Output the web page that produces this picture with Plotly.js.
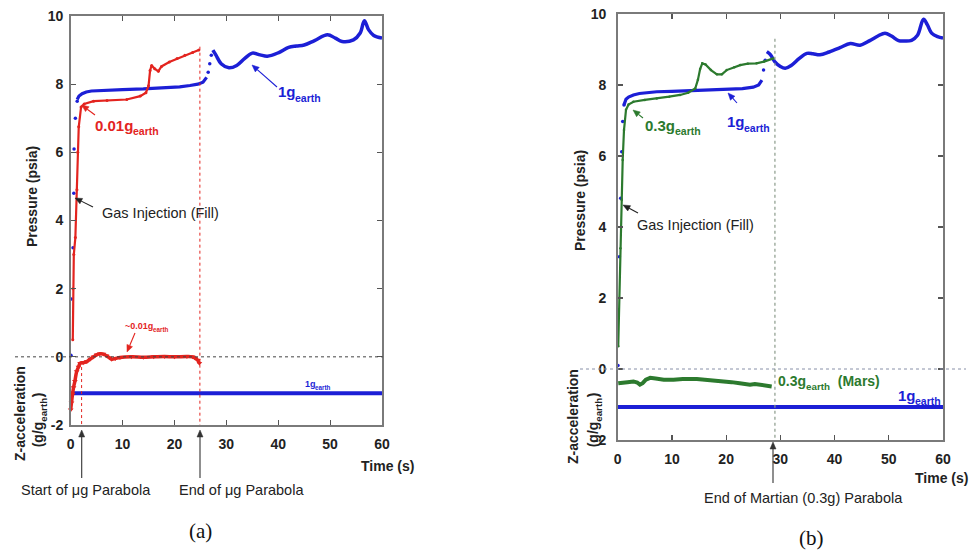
<!DOCTYPE html>
<html>
<head>
<meta charset="utf-8">
<script src="https://cdn.plot.ly/plotly-3.0.1.min.js"></script>
<style>html,body{margin:0;padding:0;background:#fff;}#chart{width:971px;height:552px;}</style>
</head>
<body>
<div id="chart"></div>
<script>
// ---------- DATA ----------
// Panel (a): 0.01 g parabola vs 1 g ground run
const aBlueRiseT = [0.05, 0.1, 0.45, 0.6, 0.65, 0.9, 1.25];
const aBlueRiseP = [0.05, 1.7, 3.2, 4.8, 6.1, 7.0, 7.5];
const aBlueT = [1.25, 1.6, 2.2, 3, 4, 6, 8, 10, 14, 18, 21, 23, 24.5, 25.5, 26.2];
const aBlueP = [7.55, 7.65, 7.72, 7.77, 7.8, 7.82, 7.83, 7.84, 7.86, 7.89, 7.92, 7.96, 8.0, 8.06, 8.2];
const aBlueJumpT = [26.5, 26.8, 27.1];
const aBlueJumpP = [8.35, 8.6, 8.85];
const aBlueWaveT = [27.4, 28, 29, 30.5, 32, 33.5, 35, 36.5, 37.9, 40, 42, 43.5, 45, 47, 49.5, 51, 52.3, 54.5, 55.8, 56.6, 57.4, 58.4, 60];
const aBlueWaveP = [9.0, 8.85, 8.6, 8.48, 8.55, 8.75, 8.91, 8.86, 8.82, 8.92, 9.08, 9.12, 9.15, 9.28, 9.45, 9.35, 9.25, 9.3, 9.5, 9.86, 9.6, 9.43, 9.35];
const aRedT = [0.4, 0.45, 0.6, 0.9, 1.2, 1.35, 1.55, 2.0, 2.6, 4.4, 7, 10.8, 13.4, 14.5, 15.0, 15.3, 15.6, 16.2, 16.9, 17.5, 19, 20.5, 22, 23.5, 24.7];
const aRedP = [0.5, 2.0, 3.0, 3.5, 4.9, 6.0, 6.75, 7.33, 7.42, 7.5, 7.52, 7.55, 7.65, 7.75, 7.95, 8.4, 8.55, 8.45, 8.38, 8.52, 8.65, 8.75, 8.85, 8.93, 9.0];
const aRedZT = [0.0, 0.15, 0.35, 0.55, 0.8, 1.15, 1.5, 1.8, 2.4, 3.1, 3.8, 4.4, 5.0, 5.6, 6.3, 6.9, 7.5, 7.9, 8.6, 9.5, 11.7, 14, 16, 18.1, 20, 22.4, 23.5, 24.0, 24.5, 24.8];
const aRedZ = [-1.55, -1.35, -1.1, -0.9, -0.72, -0.43, -0.3, -0.19, -0.17, -0.14, -0.06, 0.0, 0.06, 0.09, 0.08, 0.03, -0.03, -0.07, -0.05, -0.02, 0.0, -0.01, 0.0, 0.01, 0.0, 0.01, 0.0, -0.04, -0.1, -0.19];
const aBlueZT = [0.1, 60];
const aBlueZ = [-1.07, -1.07];
const aMarkTimes = [2.1, 24.9];

// Panel (b): 0.3 g (Martian) parabola vs 1 g ground run
const bBlueRiseT = [0.05, 0.1, 0.3, 0.55, 0.74, 0.92, 1.16];
const bBlueRiseP = [0.1, 1.67, 3.16, 4.81, 6.12, 6.97, 7.44];
const bBlueT = [1.16, 1.53, 2.0, 2.9, 4, 5.5, 7.2, 10, 14.1, 17, 20.1, 23, 25, 26.0, 26.6];
const bBlueP = [7.44, 7.6, 7.66, 7.72, 7.76, 7.79, 7.81, 7.82, 7.84, 7.86, 7.88, 7.9, 7.94, 8.0, 8.14];
const bBlueJumpT = [26.9, 27.2];
const bBlueJumpP = [8.42, 8.7];
const bBlueWaveT = [27.5, 28.2, 29.0, 30.0, 30.9, 32, 33.5, 34.9, 36, 37.3, 39, 41, 42.9, 44.7, 46.5, 48, 49.3, 50.5, 51.8, 53, 54.2, 55.3, 56.4, 57.1, 57.9, 59, 60];
const bBlueWaveP = [8.94, 8.85, 8.65, 8.52, 8.47, 8.55, 8.75, 8.89, 8.88, 8.85, 8.93, 9.05, 9.17, 9.12, 9.25, 9.38, 9.46, 9.38, 9.25, 9.24, 9.26, 9.4, 9.85, 9.7, 9.46, 9.36, 9.32];
const bGreenT = [0.1, 0.3, 0.5, 0.74, 0.92, 1.16, 1.53, 2.0, 2.9, 5, 7.2, 9.5, 11.5, 13, 14.3, 14.8, 15.2, 15.6, 16.2, 17.2, 18.3, 19.2, 20.1, 21.5, 22.6, 24, 25.6, 27, 28.7];
const bGreenP = [0.64, 2.0, 3.4, 4.76, 5.89, 6.73, 7.3, 7.45, 7.53, 7.58, 7.62, 7.67, 7.72, 7.78, 7.9, 8.15, 8.45, 8.61, 8.58, 8.42, 8.3, 8.3, 8.42, 8.5, 8.56, 8.6, 8.61, 8.66, 8.75];
const bGreenZT = [0.1, 0.8, 1.8, 2.9, 3.6, 4.1, 4.6, 5.2, 6.0, 7, 8.5, 10.3, 12, 14.6, 16.5, 18, 19.5, 21, 22.5, 23.5, 24.4, 25.3, 26.5, 27.5, 28.4];
const bGreenZ = [-0.4, -0.38, -0.37, -0.35, -0.38, -0.44, -0.4, -0.3, -0.25, -0.27, -0.3, -0.3, -0.28, -0.28, -0.3, -0.33, -0.35, -0.37, -0.4, -0.43, -0.44, -0.42, -0.44, -0.47, -0.49];
const bBlueZT = [0.05, 60];
const bBlueZ = [-1.07, -1.07];
const bMarkTimes = [29.0];

// Tick values / labels
const xTickVals = [0, 10, 20, 30, 40, 50, 60];
const xTickText = ["0", "10", "20", "30", "40", "50", "60"];
const yTickVals = [-2, 0, 2, 4, 6, 8, 10];
const yTickText = ["-2", "0", "2", "4", "6", "8", "10"];

// ---------- STYLE ----------
const RED = "#e3241f", BLUE = "#1c1fd6", GREEN = "#2c7a2e", INK = "#222";
const FONT = "Liberation Sans, Arial, sans-serif";
const W = 971, H = 552;
const px = v => v / W, py = v => 1 - v / H;

function tr(x, y, xa, ya, o) {
  return Object.assign({x: x, y: y, xaxis: xa, yaxis: ya, type: "scatter", hoverinfo: "skip", showlegend: false, cliponaxis: false}, o);
}
const traces = [
  // panel a
  tr(aBlueZT, aBlueZ, "x", "y", {mode: "lines", line: {color: BLUE, width: 4}}),
  tr(aBlueRiseT, aBlueRiseP, "x", "y", {mode: "markers", marker: {color: BLUE, size: 3.5}}),
  tr(aBlueT, aBlueP, "x", "y", {mode: "lines", line: {color: BLUE, width: 3.2}}),
  tr(aBlueJumpT, aBlueJumpP, "x", "y", {mode: "markers", marker: {color: BLUE, size: 3.5}}),
  tr(aBlueWaveT, aBlueWaveP, "x", "y", {mode: "lines", line: {color: BLUE, width: 3.5, shape: "spline"}}),
  tr(aRedT, aRedP, "x", "y", {mode: "lines+markers", line: {color: RED, width: 2.2}, marker: {color: RED, size: 3}}),
  tr(aRedZT, aRedZ, "x", "y", {mode: "lines+markers", line: {color: RED, width: 3.5, shape: "spline"}, marker: {color: RED, size: 5, symbol: "triangle-down"}}),
  // panel b
  tr(bBlueZT, bBlueZ, "x2", "y2", {mode: "lines", line: {color: BLUE, width: 4}}),
  tr(bBlueRiseT, bBlueRiseP, "x2", "y2", {mode: "markers", marker: {color: BLUE, size: 3.5}}),
  tr(bBlueT, bBlueP, "x2", "y2", {mode: "lines", line: {color: BLUE, width: 3.2}}),
  tr(bBlueJumpT, bBlueJumpP, "x2", "y2", {mode: "markers", marker: {color: BLUE, size: 3.5}}),
  tr(bBlueWaveT, bBlueWaveP, "x2", "y2", {mode: "lines", line: {color: BLUE, width: 3.5, shape: "spline"}}),
  tr(bGreenT, bGreenP, "x2", "y2", {mode: "lines+markers", line: {color: GREEN, width: 2.2}, marker: {color: GREEN, size: 2.5}}),
  tr(bGreenZT, bGreenZ, "x2", "y2", {mode: "lines", line: {color: GREEN, width: 4}})
];

function axis(domain, anchor, isX, standoff) {
  return {
    domain: domain, anchor: anchor, range: isX ? [0, 60] : [-2, 10],
    tickmode: "array", tickvals: isX ? xTickVals : yTickVals, ticktext: isX ? xTickText : yTickText,
    ticks: "inside", ticklen: 5, tickwidth: 1.2, tickcolor: "#555",
    showline: true, linecolor: "#7a7a7a", linewidth: 1.6, mirror: "ticks",
    showgrid: false, zeroline: false, fixedrange: true,
    ticklabelstandoff: standoff,
    tickfont: {family: FONT, size: 14, color: INK, weight: "bold"}
  };
}

const shapes = [];
// y = 0 dotted references
shapes.push({type: "line", xref: "paper", yref: "y", x0: px(15), x1: px(383), y0: 0, y1: 0, line: {color: "#444", width: 1, dash: "dot"}});
shapes.push({type: "line", xref: "paper", yref: "y2", x0: px(580), x1: px(966), y0: 0, y1: 0, line: {color: "#8890a8", width: 1, dash: "dot"}});
// vertical markers
shapes.push({type: "line", xref: "x", yref: "y", x0: aMarkTimes[0], x1: aMarkTimes[0], y0: -0.3, y1: -2, line: {color: RED, width: 1, dash: "dot"}});
shapes.push({type: "line", xref: "x", yref: "y", x0: aMarkTimes[1], x1: aMarkTimes[1], y0: 9.1, y1: -2, line: {color: RED, width: 1, dash: "dot"}});
shapes.push({type: "line", xref: "x2", yref: "y2", x0: bMarkTimes[0], x1: bMarkTimes[0], y0: 9.3, y1: -2, line: {color: "#8a9a8a", width: 1.2, dash: "dot"}});

// pointer arrows drawn as shapes (line + filled head), pixel positions -> paper
function arrow(tx, ty, sx, sy, color) {
  const dx = tx - sx, dy = ty - sy, len = Math.hypot(dx, dy);
  const ux = dx / len, uy = dy / len, L = 7, hw = 3;
  const bx = tx - ux * L, by = ty - uy * L;
  shapes.push({type: "line", xref: "paper", yref: "paper", x0: px(sx), y0: py(sy), x1: px(bx), y1: py(by), line: {color: color, width: 1.1}});
  const p1 = [bx - uy * hw, by + ux * hw], p2 = [bx + uy * hw, by - ux * hw];
  shapes.push({type: "path", xref: "paper", yref: "paper",
    path: `M ${px(tx)} ${py(ty)} L ${px(p1[0])} ${py(p1[1])} L ${px(p2[0])} ${py(p2[1])} Z`,
    fillcolor: color, line: {color: color, width: 0.5}});
}
// panel a arrows
arrow(81.7, 105, 95, 115, RED);
arrow(252, 65, 277, 87, BLUE);
arrow(75, 198, 93, 207, INK);
arrow(127, 352, 135, 333, RED);
arrow(81.7, 430, 81.7, 478, "#333");
arrow(200, 430, 200, 478, "#333");
// panel b arrows
arrow(633, 110, 643, 118, GREEN);
arrow(728, 93, 737, 103, BLUE);
arrow(623, 205, 638, 213, INK);
arrow(773, 442, 773, 483, "#333");

const ann = [];
function label(text, x, y, o) {
  ann.push(Object.assign({xref: "paper", yref: "paper", x: px(x), y: py(y), text: text, showarrow: false,
    xanchor: "left", yanchor: "middle", font: {family: FONT, size: 14.5, color: INK}}, o));
}
const bold = (c, s) => ({family: FONT, size: s, color: c, weight: "bold"});

// text with subscripts, assembled from separately measured pieces
const ctx = document.createElement("canvas").getContext("2d");
function textW(t, size, isBold) {
  ctx.font = (isBold ? "bold " : "") + size + 'px "Liberation Sans", Arial, sans-serif';
  return ctx.measureText(t).width;
}
function rich(parts, x, y, o) {
  const s = o.size, ss = s * 0.7, angle = o.angle || 0;
  const ws = parts.map(p => textW(p[0], p[1] ? ss : s, true));
  const total = ws.reduce((a, b) => a + b, 0);
  let cum = o.align === "center" ? -total / 2 : 0;
  parts.forEach((p, i) => {
    const c = cum + ws[i] / 2; cum += ws[i];
    const off = p[1] ? 0.38 * s : 0;
    const X = angle === -90 ? x + off : x + c;
    const Y = angle === -90 ? y - c : y + off;
    ann.push({xref: "paper", yref: "paper", x: px(X), y: py(Y), text: p[0], showarrow: false,
      xanchor: "center", yanchor: "middle", textangle: angle, borderpad: 0,
      font: bold(o.color, p[1] ? ss : s)});
  });
}

// panel a labels
rich([["0.01g", 0], ["earth", 1]], 95, 125, {size: 15, color: RED});
rich([["1g", 0], ["earth", 1]], 278, 92, {size: 15, color: BLUE});
label("Gas Injection (Fill)", 100, 213);
rich([["~0.01g", 0], ["earth", 1]], 125, 326, {size: 9, color: RED});
rich([["1g", 0], ["earth", 1]], 305, 384, {size: 9, color: BLUE});
label("Start of \u03bcg Parabola", 86, 490, {xanchor: "center"});
label("End of \u03bcg Parabola", 241, 490, {xanchor: "center"});
label("Time (s)", 387, 466, {xanchor: "center", font: bold(INK, 14)});
label("(a)", 200, 531, {xanchor: "center", font: {family: "Liberation Serif, Times New Roman, serif", size: 21, color: "#111"}});
label("Pressure (psia)", 32, 197, {xanchor: "center", textangle: -90, font: bold(INK, 14)});
label("Z-acceleration", 20, 414, {xanchor: "center", textangle: -90, font: bold(INK, 14)});
rich([["(g/g", 0], ["earth", 1], [")", 0]], 38, 420, {size: 14, color: INK, angle: -90, align: "center"});
// panel b labels
rich([["0.3g", 0], ["earth", 1]], 645, 125, {size: 15, color: GREEN});
rich([["1g", 0], ["earth", 1]], 727, 122, {size: 15, color: BLUE});
label("Gas Injection (Fill)", 635, 225);
rich([["0.3g", 0], ["earth", 1], ["\u00a0\u00a0(Mars)", 0]], 778, 381, {size: 14, color: GREEN});
rich([["1g", 0], ["earth", 1]], 898, 395, {size: 15, color: BLUE});
label("End of Martian (0.3g) Parabola", 803, 498, {xanchor: "center"});
label("Time (s)", 941, 478, {xanchor: "center", font: bold(INK, 14)});
label("(b)", 811, 538, {xanchor: "center", font: {family: "Liberation Serif, Times New Roman, serif", size: 21, color: "#111"}});
label("Pressure (psia)", 580, 201, {xanchor: "center", textangle: -90, font: bold(INK, 14)});
label("Z-acceleration", 573, 417, {xanchor: "center", textangle: -90, font: bold(INK, 14)});
rich([["(g/g", 0], ["earth", 1], [")", 0]], 593, 420, {size: 14, color: INK, angle: -90, align: "center"});

const layout = {
  width: W, height: H, margin: {l: 0, r: 0, t: 0, b: 0},
  paper_bgcolor: "#fff", plot_bgcolor: "rgba(0,0,0,0)",
  showlegend: false, hovermode: false,
  font: {family: FONT, color: INK},
  xaxis: axis([70.7 / W, 382 / W], "y", true, 6),
  yaxis: axis([(H - 425) / H, (H - 16) / H], "x", false, 3),
  xaxis2: axis([617.7 / W, 943 / W], "y2", true, 6),
  yaxis2: axis([(H - 440) / H, (H - 14) / H], "x2", false, 7),
  shapes: shapes,
  annotations: ann
};

Plotly.newPlot("chart", traces, layout, {staticPlot: true, displayModeBar: false});
</script>
</body>
</html>
